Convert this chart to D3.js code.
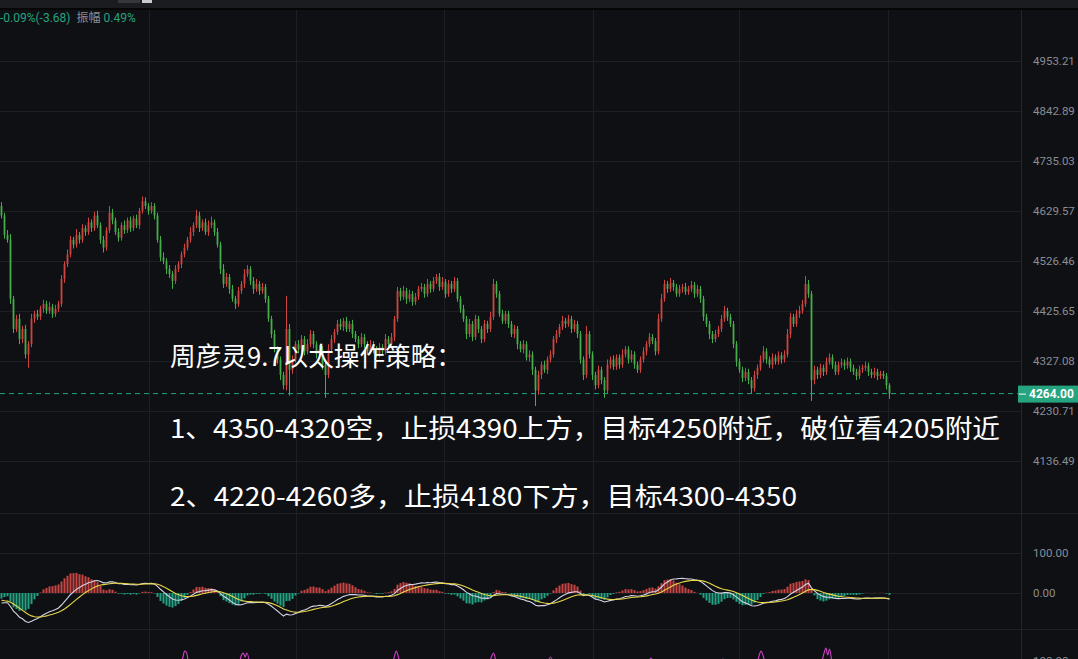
<!DOCTYPE html>
<html><head><meta charset="utf-8">
<script src="https://cdn.jsdelivr.net/npm/d3@7"></script>
<style>
html,body{margin:0;padding:0;background:#0f1013;overflow:hidden}
svg{display:block}
</style></head><body>
<svg id="c" width="1078" height="659"></svg>
<script>
// ---------- data ----------
const closes = [
4620,4580,4570,4450,4390,4410,4370,4390,4340,4360,
4410,4420,4414,4430,4440,4426,4434,4420,4430,4440,
4490,4520,4540,4570,4560,4580,4570,4594,4586,4606,
4594,4620,4600,4570,4554,4590,4626,4610,4586,4574,
4600,4590,4610,4594,4614,4600,4630,4650,4640,4630,
4640,4620,4570,4534,4526,4510,4500,4486,4510,4520,
4540,4554,4570,4586,4600,4620,4594,4606,4586,4600,
4606,4586,4560,4510,4480,4494,4470,4450,4440,4466,
4480,4500,4510,4486,4470,4480,4466,4474,4450,4410,
4380,4350,4330,4300,4280,4390,4310,4330,4360,4350,
4370,4346,4360,4380,4360,4340,4350,4320,4300,4350,
4370,4384,4400,4394,4406,4390,4400,4380,4370,4360,
4374,4360,4346,4360,4350,4340,4354,4346,4370,4360,
4374,4410,4466,4454,4466,4450,4460,4444,4454,4470,
4474,4460,4480,4470,4486,4494,4474,4484,4460,4480,
4470,4486,4450,4430,4410,4380,4400,4374,4410,4390,
4370,4400,4390,4414,4480,4460,4420,4406,4420,4400,
4380,4390,4360,4350,4360,4334,4340,4310,4270,4300,
4320,4310,4330,4340,4370,4380,4394,4406,4400,4410,
4390,4400,4380,4330,4300,4380,4340,4300,4280,4310,
4290,4270,4320,4330,4316,4334,4320,4340,4350,4330,
4340,4320,4310,4330,4346,4360,4374,4366,4346,4410,
4450,4480,4470,4482,4474,4460,4470,4474,4464,4470,
4478,4460,4470,4450,4414,4400,4380,4370,4380,4390,
4410,4426,4414,4400,4360,4326,4310,4294,4306,4290,
4274,4300,4314,4330,4346,4330,4320,4334,4326,4338,
4330,4340,4380,4414,4400,4420,4426,4440,4480,4460,
4290,4310,4300,4314,4306,4326,4334,4320,4306,4320,
4324,4318,4326,4314,4306,4298,4310,4314,4318,4306,
4300,4306,4298,4302,4298,4280,4264];
const firstOpen = 4640;   // each later open = previous close
const wickUp = [
8,6,10,12,6,8,10,6,8,6, 10,6,8,6,8,6,10,6,8,6, 8,6,10,8,6,12,6,8,6,10,
6,8,10,6,8,6,14,8,6,8, 6,10,6,8,6,8,6,10,8,6, 8,6,6,8,10,6,8,6,8,6,
6,8,6,10,6,12,8,6,8,10, 12,6,8,6,10,8,6,8,6,8, 6,10,8,6,8,10,6,8,6,6,
6,8,6,6,6,66,10,8,6,8, 8,6,10,8,6,6,8,6,6,10, 8,6,8,10,6,8,6,8,6,6,
8,6,6,8,6,6,8,6,10,6, 8,6,8,6,10,6,8,6,8,6, 8,6,10,6,8,6,8,10,6,8,
6,8,6,6,8,6,10,6,8,6, 6,8,6,10,10,6,6,8,6,6, 6,8,6,6,8,6,8,6,6,8,
6,8,6,8,6,8,6,10,6,8, 6,8,6,6,6,16,6,6,6,8, 6,6,10,6,8,6,6,10,6,6,
8,6,6,6,8,6,8,6,6,10, 10,8,6,10,6,6,8,6,8,6, 8,6,8,6,6,6,6,6,8,6,
8,10,6,6,6,6,6,6,8,6, 6,8,6,8,10,6,6,8,6,8, 6,8,10,8,6,8,10,8,16,8,
6,8,6,8,6,8,8,6,6,6, 8,6,8,6,6,6,8,6,8,6, 6,8,6,6,6,6,4];
const wickDn = [
6,8,6,10,8,6,10,8,8,26, 6,8,6,6,8,6,6,8,6,6, 6,8,6,6,8,6,8,6,8,6,
8,6,6,8,10,6,6,8,6,8, 6,8,6,8,6,6,8,6,6,8, 6,8,6,8,6,10,8,16,6,6,
8,6,6,6,8,6,8,6,6,8, 6,8,6,10,8,6,10,6,10,6, 6,8,6,8,10,6,8,6,8,6,
8,6,8,10,8,10,50,8,6,8, 6,8,6,6,8,8,6,10,44,6, 6,8,6,6,8,6,6,8,6,8,
6,8,6,6,8,6,6,8,6,6, 6,8,6,8,6,10,6,8,6,6, 6,8,6,8,6,6,8,6,8,6,
8,6,6,8,6,10,6,8,6,8, 8,6,8,6,6,8,6,6,6,8, 6,8,10,6,8,6,8,10,30,8,
8,6,8,6,6,8,6,6,8,6, 8,6,8,8,10,6,8,10,8,6, 8,14,6,8,6,6,8,6,6,8,
6,8,6,6,6,8,6,6,8,6, 6,6,8,6,8,6,6,8,6,6, 6,8,6,8,8,6,10,8,6,6,
6,6,8,6,8,10,6,8,6,8, 10,6,8,6,6,8,6,8,6,6, 8,6,6,8,6,6,8,6,6,8,
40,8,8,6,8,6,6,8,6,6, 6,8,6,8,6,8,6,6,6,8, 6,6,8,6,6,8,10];
const priceTicks = [4953.21,4842.89,4735.03,4629.57,4526.46,4425.65,4327.08,4230.71,4136.49];
const lastPrice = 4264.00;
const macdTicks = [100, 0];
const macdStart = {dif: -25, dea: -18};   // values at the left edge
const timeGridIdx = [49, 98, 147.5, 197, 246, 295.5];
// KDJ J line: only the short stretches that rise into view
const jSegments = [
 [[59,92],[60.5,104],[61,110],[61.6,109],[62.5,96],[64,88]],
 [[79,92],[80,106],[80.6,108],[81.2,104],[81.8,108],[83,92]],
 [[130,92],[131,105],[131.6,110],[132.3,104],[133.5,90]],
 [[162,92],[163.3,104],[164,108],[164.8,100],[166,90]],
 [[181.5,92],[183,104],[184.5,92]],
 [[215,92],[216.5,103],[218,92]],
 [[239,92],[240.5,102],[242,92]],
 [[251.5,92],[252.6,106],[253.2,110],[254,104],[255,92]],
 [[273,92],[274.2,108],[274.8,113],[275.4,106],[276,112],[277,96],[278.5,90]]
];
const jTicks = [100];
const headerChange = "-0.09%(-3.68)";
const headerAmpLabel = "振幅";
const headerAmp = "0.49%";
const noteLines = ["周彦灵9.7以太操作策略：",
 "1、4350-4320空，止损4390上方，目标4250附近，破位看4205附近",
 "2、4220-4260多，止损4180下方，目标4300-4350"];

// ---------- build ----------
const W = 1078, H = 659, plotR = 1021;
const svg = d3.select("#c");
const up = "#d0443f", down = "#45ad4a", teal = "#26a37f";
const gridC = "#1d1f24", axisC = "#8a8d95";

svg.append("rect").attr("width", W).attr("height", H).attr("fill", "#0f1013");
// top strip
svg.append("rect").attr("x",0).attr("y",0).attr("width",W).attr("height",8).attr("fill","#1b1c20");
svg.append("rect").attr("x",0).attr("y",8).attr("width",W).attr("height",2).attr("fill","#060607");
svg.append("rect").attr("x",118).attr("y",0).attr("width",22).attr("height",3).attr("fill","#34363b");
svg.append("rect").attr("x",142).attr("y",0).attr("width",10).attr("height",3).attr("fill","#c9cacd");

const data = closes.map((c, i) => {
  const o = i === 0 ? firstOpen : closes[i - 1];
  return {i, o, c, h: Math.max(o, c) + wickUp[i], l: Math.min(o, c) - wickDn[i]};
});

const x = d3.scaleLinear().domain([0, closes.length - 1]).range([1.5, 889.5]);
const y = d3.scaleLog().domain([4136.49, 4953.21]).range([461, 61]);
const yM = d3.scaleLinear().domain([0, 100]).range([593, 553]);
const yJ = d3.scaleLinear().domain([0, 100]).range([761, 661]);

const grid = svg.append("g");
grid.selectAll("line.v").data(timeGridIdx).join("line")
  .attr("x1", d => Math.round(x(d)) + 0.5).attr("x2", d => Math.round(x(d)) + 0.5)
  .attr("y1", 10).attr("y2", H).attr("stroke", gridC);
grid.selectAll("line.h").data(priceTicks).join("line")
  .attr("x1", 0).attr("x2", plotR).attr("y1", d => Math.round(y(d)) + 0.5).attr("y2", d => Math.round(y(d)) + 0.5)
  .attr("stroke", gridC);
grid.selectAll("line.m").data(macdTicks).join("line")
  .attr("x1", 0).attr("x2", plotR).attr("y1", d => Math.round(yM(d)) + 0.5).attr("y2", d => Math.round(yM(d)) + 0.5)
  .attr("stroke", gridC);
// panel separators
svg.append("line").attr("x1",0).attr("x2",W).attr("y1",513.5).attr("y2",513.5).attr("stroke","#1f2126");
svg.append("line").attr("x1",0).attr("x2",W).attr("y1",629.5).attr("y2",629.5).attr("stroke","#1f2126");
svg.append("line").attr("x1",plotR+0.5).attr("x2",plotR+0.5).attr("y1",10).attr("y2",H).attr("stroke","#23252b");

// candles
const cg = svg.append("g");
cg.selectAll("line.w").data(data).join("line")
  .attr("x1", d => x(d.i)).attr("x2", d => x(d.i))
  .attr("y1", d => y(d.h)).attr("y2", d => y(d.l))
  .attr("stroke", d => d.c >= d.o ? up : down).attr("stroke-width", 1);
cg.selectAll("rect").data(data).join("rect")
  .attr("x", d => x(d.i) - 0.9).attr("width", 1.8)
  .attr("y", d => y(Math.max(d.o, d.c)))
  .attr("height", d => Math.max(1, Math.abs(y(d.o) - y(d.c))))
  .attr("fill", d => d.c >= d.o ? up : down);

// last price dashed line
svg.append("line").attr("x1",0).attr("x2",1018).attr("y1",y(lastPrice)).attr("y2",y(lastPrice))
  .attr("stroke", teal).attr("stroke-width",1).attr("stroke-dasharray","5,4");

const axFont = "Roboto, 'Noto Sans', sans-serif";
// price axis
const ay = svg.append("g").attr("transform", `translate(${plotR + 5},0)`)
  .call(d3.axisRight(y).tickValues(priceTicks).tickFormat(d3.format(".2f")).tickSize(0));
ay.select(".domain").remove();
ay.selectAll("text").attr("fill", axisC).attr("font-family", axFont).attr("font-size", 11.5).attr("dx", 4);

const ly = y(lastPrice);
svg.append("rect").attr("x",1018).attr("y",ly-8).attr("width",60).attr("height",17).attr("fill",teal);
svg.append("line").attr("x1",1019).attr("x2",1026).attr("y1",ly+0.5).attr("y2",ly+0.5).attr("stroke","#ffffff");
svg.append("text").attr("x",1029).attr("y",ly+4.5).text(d3.format(".2f")(lastPrice))
  .attr("fill","#ffffff").attr("font-weight","bold").attr("font-size",12)
  .attr("font-family", axFont);

// MACD
let ema26 = closes[0], ema12 = closes[0] + macdStart.dif, dea = macdStart.dea;
const macd = closes.map((c, i) => {
  if (i > 0) { ema12 += (2 / 13) * (c - ema12); ema26 += (2 / 27) * (c - ema26); }
  const dif = ema12 - ema26;
  if (i > 0) dea += (2 / 10) * (dif - dea);
  return {i, dif, dea, hist: 2 * (dif - dea)};
});
const mg = svg.append("g");
mg.selectAll("rect").data(macd).join("rect")
  .attr("x", d => x(d.i) - 1).attr("width", 2)
  .attr("y", d => Math.min(yM(0), yM(d.hist)))
  .attr("height", d => Math.abs(yM(d.hist) - yM(0)))
  .attr("fill", d => d.hist >= 0 ? "#c94543" : "#22a283");
mg.append("path").datum(macd).attr("fill","none").attr("stroke","#d4d4e6").attr("stroke-width",1.1)
  .attr("d", d3.line().x(d => x(d.i)).y(d => yM(d.dif)));
mg.append("path").datum(macd).attr("fill","none").attr("stroke","#e8d84a").attr("stroke-width",1.1)
  .attr("d", d3.line().x(d => x(d.i)).y(d => yM(d.dea)));
const am = svg.append("g").attr("transform", `translate(${plotR + 5},0)`)
  .call(d3.axisRight(yM).tickValues(macdTicks).tickFormat(d3.format(".2f")).tickSize(0));
am.select(".domain").remove();
am.selectAll("text").attr("fill", axisC).attr("font-family", axFont).attr("font-size", 11.5).attr("dx", 4);

// KDJ J pieces
const jl = d3.line().x(d => x(d[0])).y(d => yJ(d[1])).curve(d3.curveMonotoneX);
svg.append("g").selectAll("path").data(jSegments).join("path")
  .attr("d", jl).attr("fill","none").attr("stroke","#d23fc8").attr("stroke-width",1.1);
const aj = svg.append("g").attr("transform", `translate(${plotR + 5},0)`)
  .call(d3.axisRight(yJ).tickValues(jTicks).tickFormat(d3.format(".2f")).tickSize(0));
aj.select(".domain").remove();
aj.selectAll("text").attr("fill", axisC).attr("font-family", axFont).attr("font-size", 11.5).attr("dx", 4);

// header
const ht = svg.append("text").attr("x",0).attr("y",22).attr("font-size",12)
  .attr("font-family","Roboto, 'Noto Sans CJK SC', sans-serif");
ht.append("tspan").attr("fill", teal).text(headerChange);
ht.append("tspan").attr("fill", "#8b8d93").attr("dx", 6).text(headerAmpLabel);
ht.append("tspan").attr("fill", teal).attr("dx", 3).text(headerAmp);

// strategy note
const noteY = [366, 438, 506];
const noteW = [292, 830, 627];
svg.append("g").selectAll("text").data(noteLines).join("text")
  .attr("x", 170).attr("y", (d, i) => noteY[i])
  .attr("fill", "#ffffff").attr("font-size", 26)
  .attr("font-family", "'Noto Sans CJK SC', sans-serif")
  .attr("textLength", (d, i) => noteW[i]).attr("lengthAdjust", "spacingAndGlyphs")
  .text(d => d);
</script>
</body></html>
